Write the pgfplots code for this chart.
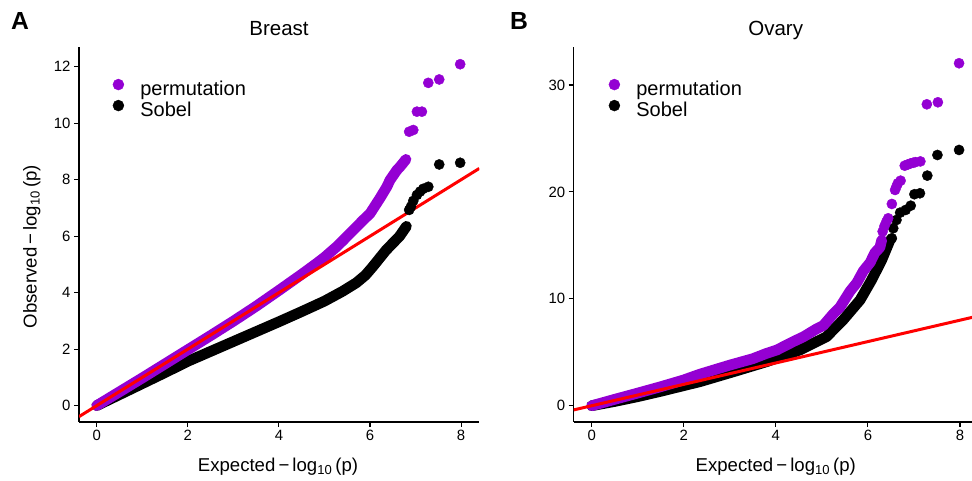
\documentclass[border=0pt]{standalone}
\usepackage{fontspec}
\setmainfont{Liberation Sans}
\usepackage{pgfplots}
\pgfplotsset{compat=1.18}
\definecolor{pviolet}{HTML}{9400D3}

\pgfplotsset{
  qq/.style={
    scale only axis,
    anchor=south west,
    axis lines=left,
    axis line style={-, line width=1.1pt, black},
    tick align=outside,
    major tick length=5pt,
    every tick/.style={black, line width=1.1pt},
    xtick={0,2,4,6,8},
    /pgf/number format/assume math mode=true,
    tick label style={font=\fontsize{14.9}{16}\selectfont, black},
    clip=true,
    legend cell align=left,
    legend image code/.code={\fill[##1] (5.5pt,5.8pt) circle (5.5pt);},
    legend style={draw=none, fill=none, inner sep=0pt, outer sep=0pt,
      font=\fontsize{20}{22}\selectfont, anchor=north west,
      nodes={inner sep=0pt, text height=14.5pt, text depth=4.5pt},
      row sep=0pt,
      /tikz/every odd column/.append style={column sep=16.2pt}},
  },
  band/.style={line width=10.7pt, line join=round, line cap=round, no markers, forget plot},
  dots/.style={only marks, mark=*, mark size=5.1pt, forget plot},
}

\begin{document}
\begin{tikzpicture}[x=1pt,y=1pt]
\useasboundingbox (0,0) rectangle (972,481);

% ---------------- Panel A: Breast ----------------
\begin{axis}[qq, at={(79pt,59pt)}, width=400.3pt, height=375pt,
  xmin=-0.39, xmax=8.4, ymin=-0.58, ymax=12.7,
  ytick={0,2,4,6,8,10,12},
  legend style={at={(0.0842,0.915)}}]
\addlegendimage{pviolet}
\addlegendentry{permutation}
\addlegendimage{black}
\addlegendentry{Sobel}
% Sobel
\addplot[black, band] coordinates {
(0,0) (0.5,0.39) (1,0.78) (1.5,1.17) (2,1.57) (2.5,1.92) (3,2.27) (3.5,2.62)
(4,2.97) (4.5,3.33) (5,3.70) (5.4,4.05) (5.7,4.35) (5.9,4.62) (6.05,4.9)
(6.2,5.2) (6.35,5.5) (6.5,5.75) (6.65,6.0) (6.8,6.35)};
\addplot[black, dots] coordinates {
(6.86,6.93) (6.90,7.05) (6.95,7.25) (7.03,7.46) (7.10,7.58) (7.17,7.68)
(7.28,7.75) (7.52,8.54) (7.98,8.60)};
% permutation
\addplot[pviolet, band] coordinates {
(0,0) (0.5,0.49) (1,0.98) (1.5,1.48) (2,1.98) (2.5,2.48) (3,2.99) (3.5,3.52)
(4,4.08) (4.5,4.65) (4.83,5.04) (5.0,5.25) (5.27,5.63) (5.42,5.87) (5.56,6.10)
(5.71,6.34) (5.85,6.57) (6.0,6.80) (6.22,7.35) (6.37,7.75) (6.44,7.99)
(6.59,8.34) (6.66,8.46) (6.79,8.72)};
\addplot[pviolet, dots] coordinates {
(6.86,9.70) (6.95,9.76) (7.03,10.41) (7.14,10.41) (7.28,11.43) (7.52,11.55)
(7.98,12.09)};
% reference line
\addplot[red, line width=3pt, forget plot] coordinates {(-0.39,-0.39) (8.4,8.4)};
\end{axis}

% ---------------- Panel B: Ovary ----------------
\begin{axis}[qq, at={(573.7pt,59pt)}, width=404.7pt, height=375pt,
  xmin=-0.39, xmax=8.4, ymin=-1.52, ymax=33.55,
  ytick={0,10,20,30},
  legend style={at={(0.0865,0.915)}}]
\addlegendimage{pviolet}
\addlegendentry{permutation}
\addlegendimage{black}
\addlegendentry{Sobel}
% Sobel
\addplot[black, band] coordinates {
(0,0) (0.5,0.4) (1,0.85) (1.5,1.35) (2,1.88) (2.35,2.25) (3.08,3.18)
(3.80,4.12) (4.52,5.21) (5.10,6.45) (5.46,8.02) (5.83,9.89) (6.08,11.76)
(6.30,13.63) (6.48,15.5)};
\addplot[black, dots] coordinates {
(6.52,15.66) (6.55,16.6) (6.62,17.37) (6.70,18.06) (6.82,18.31) (6.93,18.71)
(7.01,19.78) (7.13,19.87) (7.29,21.52) (7.51,23.45) (7.98,23.92)};
% permutation
\addplot[pviolet, band] coordinates {
(0,0) (0.5,0.6) (0.98,1.16) (1.5,1.78) (1.99,2.40) (2.35,2.95) (3.0,3.8)
(3.5,4.4) (3.8,4.9) (4.02,5.21) (4.38,6.0) (4.6,6.45) (4.89,7.2) (5.03,7.5)
(5.25,8.6) (5.39,9.2) (5.61,10.7) (5.76,11.5) (5.90,12.6) (6.05,13.4)
(6.15,14.3) (6.26,14.8) (6.30,15.5)};
\addplot[pviolet, dots] coordinates {
(6.32,16.3) (6.36,16.8) (6.40,17.2) (6.44,17.53) (6.52,18.87) (6.59,20.18)
(6.62,20.5) (6.65,20.8) (6.71,21.05) (6.80,22.45) (6.86,22.55) (6.92,22.65)
(6.98,22.72) (7.03,22.78) (7.14,22.85) (7.28,28.19) (7.52,28.38) (7.98,32.03)};
% reference line
\addplot[red, line width=3pt, forget plot] coordinates {(-0.39,-0.39) (8.4,8.4)};
\end{axis}

% ---------------- Titles and labels ----------------
\node[anchor=base, inner sep=0pt, font=\fontsize{20.5}{24}\selectfont] at (279,445.7) {Breast};
\node[anchor=base, inner sep=0pt, font=\fontsize{20.5}{24}\selectfont] at (775.7,445.7) {Ovary};
\node[anchor=base west, inner sep=0pt, font=\fontsize{24.7}{28}\selectfont\bfseries] at (11,451.7) {A};
\node[anchor=base west, inner sep=0pt, font=\fontsize{24.7}{28}\selectfont\bfseries] at (510,451.7) {B};
\node[anchor=base, inner sep=0pt, font=\fontsize{18.6}{22}\selectfont] at (278,9.3) {Expected\,−\,log\textsubscript{10}\,(p)};
\node[anchor=base, inner sep=0pt, font=\fontsize{18.6}{22}\selectfont] at (775.8,9.3) {Expected\,−\,log\textsubscript{10}\,(p)};
\node[anchor=base, inner sep=0pt, rotate=90, font=\fontsize{18.6}{22}\selectfont] at (36.5,234.5) {Observed\,−\,log\textsubscript{10}\,(p)};
\end{tikzpicture}
\end{document}
